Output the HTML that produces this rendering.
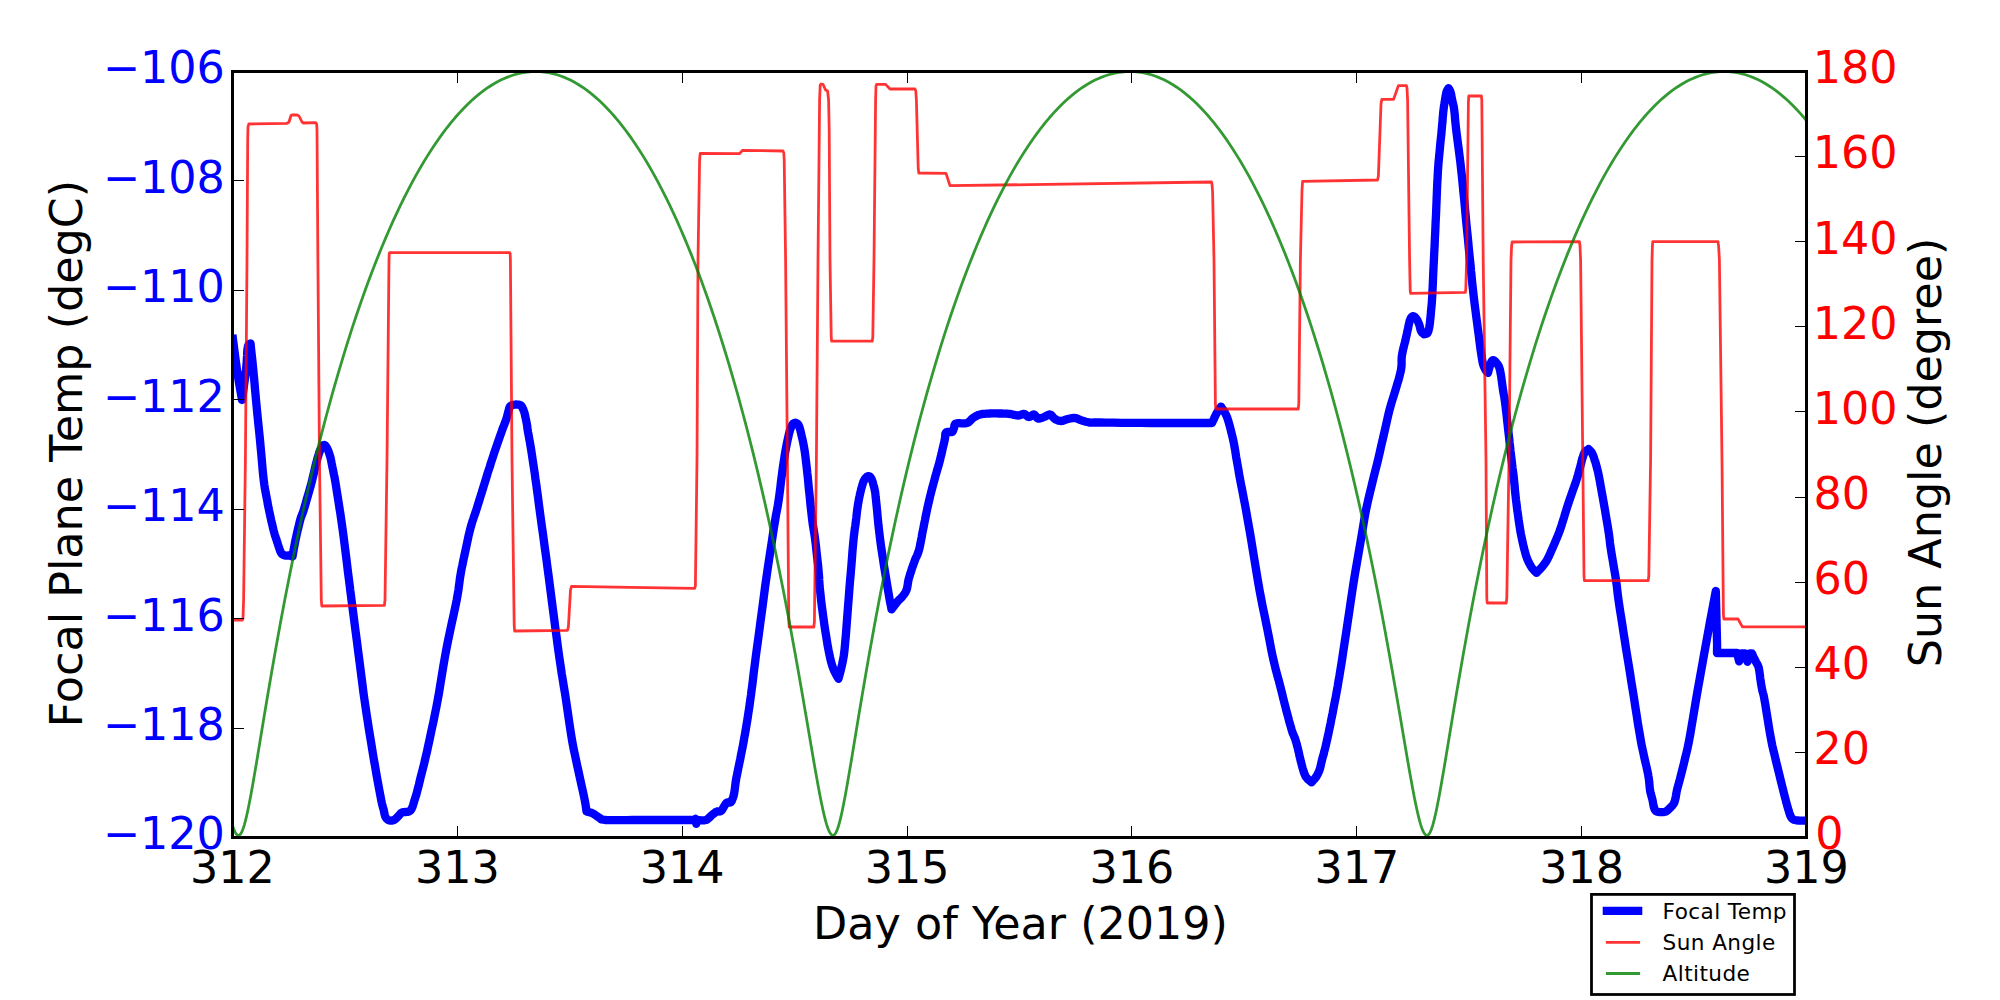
<!DOCTYPE html>
<html lang="en"><head><meta charset="utf-8"><title>Focal Plane Temp</title>
<style>
html,body{margin:0;padding:0;background:#fff;}
body{width:2000px;height:1000px;overflow:hidden;}
svg{display:block;}
text{font-family:"DejaVu Sans","Liberation Sans",sans-serif;}
</style></head><body>
<svg width="2000" height="1000" viewBox="0 0 2000 1000">
<rect width="2000" height="1000" fill="#fff"/>
<clipPath id="ax"><rect x="232.5" y="71.5" width="1574.0" height="766.0"/></clipPath>
<g clip-path="url(#ax)" fill="none" stroke-linejoin="round" stroke-linecap="butt">
<path d="M232.4 334.8L232.9 338.7L233.6 344.1L234.4 350.5L235.3 357.3L236.2 364.0L237.0 370.0L237.9 375.6L238.8 381.5L239.8 387.2L240.7 392.4L241.5 396.8L242.0 400.0L242.5 396.6L243.1 391.9L243.9 386.2L244.7 380.4L245.4 374.8L246.0 370.0L246.4 365.9L246.7 362.0L246.9 358.4L247.1 355.2L247.2 352.3L247.4 350.0L247.6 348.3L247.8 347.1L247.9 346.3L248.1 345.9L248.3 345.5L248.5 345.0L248.8 344.5L249.2 344.2L249.6 343.9L249.9 343.7L250.3 343.5L250.5 343.4L250.8 346.3L251.2 350.2L251.7 354.8L252.3 359.9L252.8 365.1L253.3 370.0L253.7 374.7L254.2 379.4L254.6 384.2L255.0 389.1L255.5 394.4L256.0 400.0L256.6 406.1L257.2 412.6L257.9 419.4L258.6 426.3L259.3 433.2L260.0 440.0L260.6 446.9L261.3 454.1L261.9 461.2L262.5 468.1L263.1 474.5L263.7 480.0L264.3 484.6L264.9 488.5L265.5 491.9L266.1 494.8L266.6 497.5L267.1 500.0L267.5 502.1L267.7 503.7L268.0 505.0L268.2 506.3L268.6 507.9L269.0 510.0L269.6 512.8L270.3 516.2L271.1 519.9L272.0 523.6L272.8 527.0L273.5 530.0L274.2 532.5L274.8 534.8L275.5 536.8L276.1 538.7L276.7 540.4L277.2 542.0L277.7 543.5L278.1 544.8L278.5 546.0L278.8 547.0L279.2 548.0L279.5 549.0L279.8 549.9L280.1 550.8L280.4 551.6L280.7 552.3L281.1 552.9L281.5 553.5L282.0 554.0L282.5 554.4L283.1 554.8L283.7 555.1L284.4 555.3L285.0 555.5L285.6 555.6L286.3 555.6L287.0 555.6L287.7 555.5L288.4 555.5L289.0 555.5L289.7 555.6L290.3 555.8L291.0 556.0L291.6 556.2L292.1 556.4L292.5 556.5L292.8 554.7L293.2 552.4L293.7 549.5L294.3 546.4L294.9 543.1L295.5 540.0L296.2 536.8L297.0 533.2L297.8 529.6L298.7 526.1L299.5 522.8L300.2 520.0L300.8 517.9L301.4 516.3L301.9 515.0L302.4 513.7L303.0 512.1L303.7 510.0L304.6 507.1L305.6 503.7L306.6 500.0L307.7 496.3L308.7 492.9L309.5 490.0L310.1 487.8L310.6 486.2L310.9 484.9L311.3 483.6L311.7 482.0L312.2 480.0L312.8 477.4L313.6 474.3L314.3 471.0L315.1 467.7L315.8 464.6L316.5 462.0L317.1 459.8L317.6 457.9L318.1 456.2L318.6 454.7L319.0 453.3L319.5 452.0L319.9 450.8L320.4 449.9L320.8 449.0L321.2 448.3L321.6 447.6L322.0 447.0L322.4 446.4L322.8 445.9L323.2 445.4L323.6 445.1L324.1 445.0L324.5 445.0L325.0 445.3L325.5 445.8L326.0 446.4L326.5 447.2L327.0 448.1L327.5 449.0L328.0 450.0L328.4 451.0L328.8 452.2L329.2 453.4L329.6 454.7L330.0 456.0L330.4 457.3L330.7 458.6L331.0 460.0L331.3 461.5L331.6 463.1L332.0 465.0L332.4 467.1L332.9 469.4L333.4 471.8L333.9 474.4L334.5 477.1L335.0 480.0L335.5 482.9L336.0 485.9L336.5 489.1L337.0 492.4L337.6 496.0L338.2 500.0L338.9 504.2L339.5 508.5L340.3 513.1L341.0 518.1L341.8 523.7L342.7 530.0L343.7 537.5L344.8 546.3L346.0 555.6L347.1 564.8L348.1 573.2L349.0 580.0L349.6 584.7L350.0 587.8L350.2 590.0L350.5 592.2L350.9 595.3L351.5 600.0L352.4 606.6L353.4 614.4L354.5 623.1L355.7 632.2L356.9 641.3L358.0 650.0L359.1 658.4L360.2 667.0L361.3 675.6L362.4 684.1L363.4 692.2L364.5 700.0L365.6 707.4L366.6 714.4L367.7 721.2L368.7 727.8L369.7 734.0L370.7 740.0L371.6 745.6L372.4 750.7L373.2 755.6L374.0 760.4L374.9 765.1L375.7 770.0L376.6 775.2L377.6 780.7L378.6 786.2L379.6 791.5L380.5 796.2L381.2 800.0L381.8 802.9L382.3 804.9L382.7 806.4L383.0 807.6L383.4 808.7L383.7 810.0L384.0 811.4L384.3 812.7L384.5 813.9L384.8 815.1L385.1 816.1L385.5 817.0L386.0 817.8L386.5 818.5L387.1 819.1L387.7 819.6L388.3 820.0L389.0 820.3L389.8 820.5L390.6 820.6L391.4 820.6L392.3 820.5L393.2 820.3L394.0 820.0L394.8 819.5L395.6 818.9L396.3 818.2L397.1 817.4L397.8 816.7L398.5 816.0L399.1 815.4L399.6 814.7L400.1 814.1L400.6 813.5L401.2 812.9L402.0 812.5L403.0 812.2L404.2 812.1L405.5 812.0L406.8 811.9L408.0 811.8L409.0 811.5L409.7 811.1L410.3 810.6L410.8 810.1L411.2 809.4L411.6 808.8L412.0 808.0L412.4 807.2L412.7 806.3L413.0 805.4L413.3 804.4L413.6 803.3L414.0 802.0L414.4 800.6L414.9 799.0L415.4 797.4L416.0 795.6L416.5 793.8L417.0 792.0L417.5 790.2L417.9 788.4L418.4 786.6L418.9 784.7L419.4 782.5L420.0 780.0L420.7 777.1L421.5 773.9L422.4 770.5L423.3 767.0L424.2 763.4L425.0 760.0L425.7 756.9L426.4 754.1L427.1 751.2L427.7 748.1L428.5 744.5L429.5 740.0L430.6 734.6L431.9 728.5L433.4 721.9L434.8 714.8L436.3 707.5L437.7 700.0L439.1 692.2L440.4 684.1L441.8 675.6L443.2 667.0L444.7 658.4L446.2 650.0L447.9 641.4L449.8 632.4L451.7 623.4L453.6 614.8L455.3 606.9L456.7 600.0L457.7 594.3L458.5 589.6L459.0 585.6L459.5 582.0L459.9 578.6L460.5 575.0L461.1 571.5L461.7 568.2L462.4 565.1L463.0 562.0L463.7 558.7L464.5 555.0L465.4 550.8L466.4 546.2L467.4 541.4L468.4 536.6L469.5 532.1L470.5 528.0L471.5 524.5L472.4 521.4L473.4 518.6L474.3 515.8L475.3 513.0L476.3 510.0L477.3 506.8L478.3 503.5L479.4 500.1L480.4 496.7L481.5 493.4L482.5 490.0L483.5 486.7L484.6 483.3L485.6 480.0L486.6 476.7L487.6 473.3L488.7 470.0L489.8 466.7L490.8 463.3L491.9 460.0L493.0 456.7L494.1 453.3L495.2 450.0L496.4 446.6L497.6 443.0L498.9 439.4L500.1 435.9L501.2 432.8L502.2 430.0L503.0 427.7L503.8 425.9L504.4 424.3L504.9 422.9L505.5 421.5L506.0 420.0L506.5 418.4L507.0 416.8L507.4 415.2L507.8 413.6L508.2 412.2L508.5 411.0L508.8 410.0L509.0 409.1L509.2 408.3L509.4 407.6L509.7 407.0L510.0 406.5L510.4 406.1L510.9 405.7L511.3 405.5L511.9 405.3L512.4 405.2L513.0 405.0L513.6 404.8L514.3 404.7L514.9 404.6L515.6 404.5L516.3 404.5L517.0 404.5L517.7 404.6L518.4 404.6L519.1 404.8L519.8 404.9L520.4 405.2L521.0 405.5L521.5 405.9L521.8 406.5L522.2 407.1L522.4 407.7L522.7 408.4L523.0 409.0L523.3 409.5L523.5 410.0L523.7 410.5L523.9 411.1L524.2 411.9L524.5 413.0L524.9 414.6L525.3 416.7L525.8 418.9L526.3 421.2L526.7 423.3L527.0 425.0L527.2 426.1L527.3 426.6L527.3 427.0L527.3 427.5L527.4 428.4L527.7 430.0L528.1 432.5L528.7 435.6L529.3 439.1L530.0 442.8L530.6 446.5L531.2 450.0L531.7 453.3L532.2 456.7L532.7 460.0L533.2 463.3L533.7 466.7L534.2 470.0L534.7 473.2L535.1 476.3L535.5 479.4L536.0 482.6L536.5 486.1L537.0 490.0L537.6 494.3L538.2 498.9L538.8 503.8L539.5 508.9L540.2 514.3L541.0 520.0L541.8 526.0L542.7 532.2L543.6 538.8L544.5 545.6L545.5 552.6L546.5 560.0L547.5 567.8L548.6 575.9L549.7 584.4L550.8 593.0L551.9 601.6L553.0 610.0L554.1 618.4L555.2 627.0L556.4 635.6L557.5 644.1L558.6 652.2L559.7 660.0L560.8 667.2L561.8 674.1L562.9 680.6L563.9 687.0L565.0 693.4L566.0 700.0L567.0 706.8L568.0 713.7L569.0 720.6L570.0 727.4L571.0 733.9L572.0 740.0L573.0 745.6L574.0 750.7L575.1 755.6L576.1 760.4L577.1 765.1L578.2 770.0L579.3 775.2L580.5 780.7L581.7 786.2L582.9 791.4L583.9 796.1L584.7 800.0L585.3 803.1L585.7 805.6L586.0 807.6L586.2 809.2L586.4 810.5L586.5 811.5L587.2 811.7L588.2 811.9L589.4 812.2L590.6 812.6L591.9 813.0L593.0 813.5L594.0 814.1L595.0 814.7L596.0 815.5L596.9 816.2L597.9 816.9L599.0 817.5L599.8 818.0L600.3 818.5L600.8 819.0L601.6 819.4L603.3 819.7L606.0 820.0L609.9 820.1L614.6 820.2L620.0 820.2L626.1 820.1L632.8 820.0L640.0 820.0L648.6 820.0L658.7 820.0L669.5 820.0L679.8 820.0L688.5 820.0L694.7 820.0L695.5 818.7L696.3 823.8L697.2 820.0L698.2 820.1L699.6 820.2L701.2 820.3L702.9 820.4L704.6 820.3L706.0 820.0L707.2 819.4L708.2 818.6L709.2 817.7L710.2 816.7L711.1 815.8L712.0 815.0L712.9 814.3L713.8 813.6L714.6 813.0L715.4 812.4L716.2 811.9L717.0 811.5L717.7 811.3L718.4 811.3L719.1 811.4L719.7 811.5L720.3 811.4L721.0 811.0L721.7 810.3L722.4 809.3L723.1 808.1L723.8 806.9L724.4 805.9L725.0 805.0L725.4 804.4L725.7 803.8L726.0 803.4L726.3 803.1L726.6 802.8L727.0 802.5L727.6 802.4L728.2 802.5L728.9 802.6L729.7 802.6L730.4 802.5L731.0 802.0L731.6 801.2L732.1 800.1L732.6 798.8L733.1 797.4L733.6 795.8L734.0 794.0L734.4 792.0L734.7 789.8L735.0 787.4L735.3 785.0L735.6 782.5L736.0 780.0L736.4 777.6L736.9 775.3L737.4 772.9L737.9 770.4L738.4 767.8L739.0 765.0L739.6 762.0L740.3 758.8L740.9 755.5L741.6 752.1L742.3 748.6L743.0 745.0L743.7 741.4L744.3 737.7L745.0 733.9L745.7 730.1L746.3 726.1L747.0 722.0L747.7 717.8L748.3 713.5L749.0 709.1L749.7 704.5L750.3 699.8L751.0 695.0L751.6 690.1L752.3 685.1L752.9 680.0L753.5 674.7L754.2 669.0L755.0 663.0L755.8 656.6L756.7 649.7L757.7 642.6L758.7 635.3L759.7 627.7L760.7 620.0L761.8 612.1L762.9 603.9L764.0 595.4L765.1 586.9L766.3 578.4L767.5 570.0L768.8 561.3L770.2 552.2L771.6 543.1L772.9 534.4L774.1 526.6L775.2 520.0L776.0 515.0L776.7 511.5L777.2 508.8L777.7 506.3L778.1 503.6L778.7 500.0L779.3 495.5L780.0 490.4L780.6 485.1L781.2 479.8L781.9 474.7L782.5 470.0L783.1 465.8L783.7 461.9L784.3 458.1L784.8 454.6L785.4 451.2L786.0 448.0L786.6 444.9L787.2 441.9L787.8 439.1L788.4 436.5L788.9 434.1L789.5 432.0L790.0 430.2L790.5 428.7L791.0 427.4L791.5 426.3L792.0 425.3L792.5 424.5L793.0 423.8L793.6 423.4L794.2 423.1L794.7 423.0L795.2 422.8L795.5 422.7L795.8 422.9L796.3 423.1L796.8 423.3L797.4 423.7L798.0 424.3L798.5 425.0L798.9 425.9L799.3 426.9L799.7 428.1L800.1 429.5L800.5 431.1L801.0 433.0L801.5 435.3L802.1 437.9L802.8 440.8L803.4 443.8L804.0 446.9L804.5 450.0L805.0 453.2L805.4 456.4L805.8 459.8L806.2 463.2L806.6 466.6L807.0 470.0L807.3 473.2L807.7 476.3L808.0 479.4L808.3 482.6L808.6 486.1L809.0 490.0L809.5 494.5L810.0 499.6L810.5 505.0L811.1 510.4L811.7 515.5L812.2 520.0L812.7 523.8L813.2 527.0L813.7 530.0L814.2 533.0L814.7 536.2L815.2 540.0L815.8 544.5L816.3 549.6L816.9 555.0L817.5 560.4L818.1 565.5L818.5 570.0L818.8 573.8L819.1 577.0L819.2 580.0L819.4 583.0L819.6 586.2L820.0 590.0L820.5 594.4L821.0 599.3L821.6 604.4L822.3 609.6L823.0 614.9L823.7 620.0L824.4 625.1L825.2 630.4L826.1 635.8L826.9 640.9L827.7 645.7L828.5 650.0L829.3 653.8L830.0 657.2L830.7 660.2L831.4 663.0L832.2 665.6L833.0 668.0L833.9 670.3L835.0 672.5L836.0 674.5L837.0 676.3L837.9 677.7L838.5 678.8L838.9 677.3L839.4 675.3L840.1 672.8L840.8 670.2L841.4 667.5L842.0 665.0L842.5 662.7L842.9 660.6L843.3 658.5L843.7 656.2L844.1 653.4L844.5 650.0L844.9 645.9L845.3 641.1L845.8 635.9L846.2 630.6L846.6 625.2L847.0 620.0L847.4 614.9L847.8 609.6L848.2 604.4L848.6 599.3L849.0 594.4L849.3 590.0L849.6 586.2L849.9 583.0L850.1 580.0L850.4 577.0L850.7 573.8L851.0 570.0L851.4 565.5L851.8 560.4L852.2 555.0L852.6 549.6L853.1 544.5L853.5 540.0L853.9 536.0L854.4 532.2L854.8 528.8L855.3 525.6L855.7 522.6L856.0 520.0L856.3 517.8L856.5 515.9L856.7 514.4L856.8 513.0L857.0 511.6L857.2 510.0L857.4 508.3L857.7 506.7L857.9 505.0L858.2 503.3L858.5 501.7L858.8 500.0L859.1 498.3L859.5 496.6L859.8 495.0L860.2 493.3L860.6 491.6L861.0 490.0L861.4 488.3L861.9 486.6L862.4 484.9L862.9 483.3L863.4 481.8L864.0 480.5L864.6 479.4L865.3 478.4L866.0 477.6L866.7 476.9L867.4 476.4L868.0 476.2L868.6 476.2L869.2 476.3L869.8 476.6L870.4 477.2L870.9 478.0L871.5 479.0L872.1 480.4L872.7 482.1L873.2 484.1L873.8 486.1L874.3 488.1L874.7 490.0L875.0 491.4L875.2 492.3L875.3 493.2L875.4 494.5L875.6 496.6L876.0 500.0L876.5 504.8L877.1 510.7L877.7 517.5L878.4 524.8L879.3 532.4L880.2 540.0L881.3 548.1L882.7 557.1L884.1 566.3L885.6 575.2L886.9 583.3L888.0 590.0L888.9 595.2L889.6 599.4L890.2 602.8L890.8 605.4L891.2 607.6L891.5 609.3L892.2 608.3L893.3 607.0L894.5 605.4L895.8 603.8L897.0 602.2L898.0 601.0L898.8 600.1L899.5 599.5L900.1 598.9L900.7 598.4L901.3 597.8L902.0 597.0L902.8 596.0L903.6 595.0L904.4 593.9L905.2 592.7L905.9 591.4L906.5 590.0L907.0 588.5L907.3 586.9L907.6 585.2L907.9 583.4L908.1 581.7L908.5 580.0L908.9 578.3L909.4 576.7L909.9 575.0L910.4 573.3L911.0 571.7L911.5 570.0L912.0 568.3L912.6 566.7L913.2 565.0L913.8 563.3L914.4 561.7L915.0 560.0L915.6 558.4L916.3 557.0L917.0 555.6L917.6 554.1L918.3 552.2L919.0 550.0L919.7 547.2L920.3 544.1L921.0 540.6L921.7 537.0L922.3 533.4L923.0 530.0L923.7 526.7L924.3 523.3L925.0 520.0L925.6 516.7L926.3 513.3L927.0 510.0L927.7 506.7L928.5 503.3L929.3 500.0L930.0 496.7L930.9 493.3L931.7 490.0L932.6 486.6L933.6 483.0L934.6 479.4L935.5 475.9L936.4 472.8L937.2 470.0L937.8 467.9L938.3 466.3L938.7 465.0L939.0 463.7L939.5 462.1L940.0 460.0L940.7 457.1L941.6 453.6L942.4 449.8L943.3 446.1L944.1 442.7L944.7 440.0L945.1 437.9L945.2 436.3L945.3 435.0L945.3 434.0L945.6 433.2L946.0 432.5L946.8 432.1L947.8 431.9L949.0 432.0L950.1 432.2L951.2 432.2L952.0 432.0L952.6 431.5L953.0 430.9L953.2 430.2L953.5 429.5L953.7 428.7L954.0 428.0L954.2 427.2L954.3 426.4L954.4 425.5L954.7 424.7L955.1 424.0L956.0 423.5L957.4 423.2L959.2 423.2L961.2 423.3L963.4 423.4L965.4 423.3L967.0 423.0L968.3 422.4L969.3 421.6L970.2 420.7L971.1 419.7L972.0 418.8L973.0 418.0L974.1 417.3L975.1 416.6L976.2 416.0L977.4 415.4L978.6 414.9L980.0 414.5L981.5 414.2L983.1 413.9L984.8 413.8L986.6 413.7L988.3 413.6L990.0 413.5L991.7 413.4L993.3 413.4L995.0 413.4L996.7 413.4L998.3 413.5L1000.0 413.5L1001.7 413.5L1003.4 413.6L1005.1 413.7L1006.8 413.7L1008.4 413.9L1010.0 414.0L1011.5 414.2L1012.9 414.5L1014.2 414.9L1015.6 415.2L1016.8 415.4L1018.0 415.5L1019.1 415.4L1020.2 415.1L1021.2 414.7L1022.1 414.3L1023.1 414.0L1024.0 414.0L1024.9 414.3L1025.7 414.9L1026.6 415.6L1027.4 416.2L1028.2 416.8L1029.0 417.0L1029.8 416.8L1030.7 416.3L1031.6 415.7L1032.4 415.1L1033.2 414.6L1034.0 414.5L1034.7 414.9L1035.3 415.6L1035.9 416.4L1036.6 417.3L1037.2 418.1L1038.0 418.5L1038.9 418.6L1039.9 418.4L1040.9 418.2L1041.9 417.8L1043.0 417.4L1044.0 417.0L1045.0 416.6L1046.0 416.0L1047.1 415.4L1048.1 414.9L1049.1 414.5L1050.0 414.5L1050.9 414.9L1051.7 415.6L1052.5 416.5L1053.3 417.4L1054.1 418.3L1055.0 419.0L1055.9 419.5L1056.9 420.0L1057.9 420.4L1058.9 420.7L1059.9 420.9L1061.0 421.0L1062.1 420.9L1063.3 420.6L1064.4 420.2L1065.6 419.7L1066.8 419.3L1068.0 419.0L1069.2 418.7L1070.3 418.5L1071.5 418.2L1072.7 418.0L1073.8 418.0L1075.0 418.0L1076.2 418.2L1077.3 418.6L1078.4 419.1L1079.6 419.6L1080.8 420.1L1082.0 420.5L1083.3 420.9L1084.5 421.3L1085.8 421.7L1087.1 422.0L1088.5 422.3L1090.0 422.5L1091.1 422.6L1091.7 422.6L1092.4 422.6L1093.6 422.5L1096.0 422.5L1100.0 422.5L1105.9 422.6L1113.3 422.6L1121.8 422.8L1131.0 422.9L1140.5 422.9L1150.0 423.0L1160.4 423.0L1172.1 423.0L1184.1 423.0L1195.5 423.0L1205.1 423.0L1212.0 423.0L1212.5 421.9L1213.2 420.4L1214.0 418.7L1214.8 416.8L1215.7 415.0L1216.5 413.5L1217.3 412.1L1218.2 410.8L1219.0 409.5L1219.8 408.4L1220.5 407.4L1221.0 406.7L1221.4 407.2L1221.9 408.0L1222.5 408.8L1223.2 409.8L1223.9 410.9L1224.5 412.0L1225.1 413.0L1225.6 414.0L1226.1 415.1L1226.7 416.3L1227.3 417.9L1228.0 420.0L1228.8 422.6L1229.7 425.8L1230.6 429.2L1231.5 432.9L1232.4 436.5L1233.2 440.0L1233.9 443.3L1234.5 446.7L1235.1 450.0L1235.6 453.3L1236.1 456.7L1236.7 460.0L1237.3 463.4L1237.9 466.8L1238.5 470.2L1239.0 473.6L1239.6 476.8L1240.2 480.0L1240.7 482.8L1241.2 485.3L1241.7 487.7L1242.2 490.3L1242.8 493.3L1243.5 497.0L1244.3 501.3L1245.2 505.8L1246.1 510.8L1247.1 516.4L1248.2 522.8L1249.5 530.0L1251.0 538.7L1252.6 548.7L1254.4 559.6L1256.2 570.5L1257.9 580.8L1259.5 590.0L1261.0 597.9L1262.4 605.2L1263.8 611.9L1265.1 618.1L1266.3 624.1L1267.5 630.0L1268.6 635.6L1269.6 640.7L1270.5 645.6L1271.4 650.4L1272.4 655.1L1273.5 660.0L1274.7 665.1L1276.0 670.4L1277.4 675.6L1278.8 680.7L1280.1 685.6L1281.2 690.0L1282.2 693.9L1283.0 697.4L1283.8 700.6L1284.6 703.7L1285.4 706.8L1286.2 710.0L1287.1 713.4L1288.1 717.0L1289.0 720.6L1290.0 724.1L1290.9 727.2L1291.7 730.0L1292.4 732.2L1293.1 734.1L1293.8 735.6L1294.4 737.0L1295.0 738.4L1295.5 740.0L1296.0 741.7L1296.5 743.3L1296.9 745.0L1297.4 746.7L1297.8 748.3L1298.2 750.0L1298.6 751.7L1299.0 753.3L1299.3 755.0L1299.7 756.7L1300.1 758.3L1300.5 760.0L1300.9 761.7L1301.4 763.4L1301.8 765.2L1302.3 766.9L1302.7 768.5L1303.2 770.0L1303.6 771.4L1304.0 772.6L1304.4 773.8L1304.9 774.9L1305.4 776.0L1306.0 777.0L1306.8 778.0L1307.8 779.1L1308.9 780.1L1310.0 781.0L1310.9 781.7L1311.5 782.3L1312.0 781.7L1312.7 781.0L1313.5 780.1L1314.4 779.1L1315.3 778.0L1316.0 777.0L1316.7 776.0L1317.3 774.9L1317.9 773.8L1318.4 772.6L1319.0 771.4L1319.5 770.0L1320.0 768.5L1320.4 766.9L1320.8 765.2L1321.2 763.4L1321.6 761.7L1322.0 760.0L1322.4 758.4L1322.8 757.0L1323.2 755.6L1323.7 754.1L1324.1 752.2L1324.7 750.0L1325.4 747.2L1326.1 744.1L1326.9 740.6L1327.7 737.0L1328.5 733.4L1329.2 730.0L1329.9 726.7L1330.6 723.3L1331.2 720.0L1331.9 716.7L1332.6 713.3L1333.2 710.0L1333.8 706.8L1334.4 703.7L1335.0 700.6L1335.7 697.4L1336.3 693.9L1337.0 690.0L1337.8 685.7L1338.5 681.1L1339.4 676.2L1340.2 671.1L1341.1 665.7L1342.0 660.0L1342.9 653.9L1343.9 647.4L1344.9 640.6L1346.0 633.7L1347.0 626.8L1348.0 620.0L1349.0 613.3L1350.0 606.5L1351.0 599.7L1352.0 593.0L1353.0 586.4L1354.0 580.0L1355.0 573.9L1356.0 568.0L1357.0 562.2L1358.0 556.5L1359.0 550.8L1360.0 545.0L1361.0 539.1L1362.0 533.1L1363.0 527.1L1364.0 521.1L1365.0 515.4L1366.0 510.0L1367.1 504.9L1368.2 499.9L1369.3 495.2L1370.4 490.6L1371.5 486.2L1372.5 482.0L1373.5 478.0L1374.4 474.3L1375.3 470.8L1376.2 467.3L1377.1 463.7L1378.0 460.0L1378.9 456.1L1379.8 452.2L1380.7 448.2L1381.6 444.2L1382.6 440.1L1383.5 436.0L1384.5 431.7L1385.5 427.3L1386.5 422.8L1387.5 418.3L1388.5 414.0L1389.5 410.0L1390.5 406.3L1391.5 402.9L1392.5 399.6L1393.5 396.4L1394.5 393.3L1395.5 390.0L1396.5 386.6L1397.5 383.1L1398.6 379.7L1399.5 376.3L1400.3 373.0L1401.0 370.0L1401.4 367.2L1401.6 364.6L1401.6 362.2L1401.6 359.8L1401.7 357.4L1402.0 355.0L1402.5 352.4L1403.0 349.8L1403.7 347.2L1404.3 344.6L1405.0 342.2L1405.5 340.0L1405.9 338.0L1406.3 336.3L1406.7 334.7L1407.0 333.1L1407.3 331.6L1407.7 330.0L1408.1 328.3L1408.4 326.4L1408.8 324.6L1409.2 322.9L1409.6 321.3L1410.0 320.0L1410.5 318.9L1410.9 318.0L1411.4 317.3L1411.9 316.7L1412.5 316.4L1413.0 316.2L1413.6 316.3L1414.2 316.6L1414.8 317.0L1415.4 317.7L1416.0 318.3L1416.5 319.0L1417.0 319.7L1417.4 320.4L1417.8 321.2L1418.2 322.1L1418.6 323.0L1419.0 324.0L1419.4 325.1L1419.7 326.3L1420.0 327.6L1420.3 328.9L1420.6 330.0L1421.0 331.0L1421.5 331.8L1422.0 332.5L1422.6 333.1L1423.2 333.6L1423.7 334.0L1424.0 334.3L1424.4 334.2L1425.0 334.1L1425.6 334.0L1426.3 333.8L1427.0 333.5L1427.5 333.0L1427.9 332.3L1428.3 331.4L1428.6 330.4L1428.8 329.2L1429.1 328.1L1429.3 327.0L1429.5 326.0L1429.6 325.2L1429.7 324.4L1429.9 323.3L1430.0 321.9L1430.2 320.0L1430.5 317.3L1430.8 313.9L1431.1 310.2L1431.5 306.4L1431.8 302.9L1432.0 300.0L1432.1 298.0L1432.2 296.7L1432.3 295.6L1432.3 294.4L1432.4 292.7L1432.5 290.0L1432.7 286.3L1432.9 282.0L1433.1 277.2L1433.3 271.9L1433.6 266.1L1433.9 260.0L1434.2 253.4L1434.6 246.1L1434.9 238.4L1435.3 230.6L1435.6 222.7L1436.0 215.0L1436.3 207.4L1436.6 199.8L1436.9 192.2L1437.2 184.6L1437.6 177.2L1438.0 170.0L1438.5 162.8L1439.2 155.6L1439.9 148.4L1440.5 141.7L1441.2 135.5L1441.7 130.0L1442.1 125.4L1442.5 121.5L1442.7 118.1L1443.0 115.2L1443.2 112.5L1443.5 110.0L1443.8 107.7L1444.0 105.9L1444.3 104.2L1444.5 102.8L1444.8 101.4L1445.0 100.0L1445.2 98.5L1445.5 97.0L1445.7 95.6L1446.0 94.3L1446.2 93.1L1446.5 92.0L1446.8 91.1L1447.2 90.3L1447.6 89.6L1448.0 89.0L1448.3 88.6L1448.5 88.2L1448.7 88.6L1449.0 89.0L1449.4 89.6L1449.8 90.3L1450.2 91.1L1450.5 92.0L1450.8 93.1L1451.1 94.3L1451.3 95.6L1451.6 97.0L1451.9 98.5L1452.2 100.0L1452.5 101.4L1452.8 102.8L1453.2 104.2L1453.5 105.9L1453.9 107.7L1454.2 110.0L1454.5 112.5L1454.8 115.2L1455.0 118.1L1455.3 121.5L1455.7 125.4L1456.2 130.0L1456.9 135.5L1457.7 141.7L1458.6 148.4L1459.5 155.6L1460.4 162.8L1461.2 170.0L1462.0 177.2L1462.7 184.6L1463.4 192.2L1464.2 199.8L1464.9 207.4L1465.6 215.0L1466.3 222.7L1467.1 230.6L1467.9 238.4L1468.6 246.1L1469.3 253.4L1470.0 260.0L1470.6 265.8L1471.0 270.7L1471.5 275.3L1471.9 279.8L1472.4 284.6L1473.0 290.0L1473.7 296.2L1474.5 303.0L1475.4 310.0L1476.3 317.0L1477.2 323.8L1478.0 330.0L1478.8 335.8L1479.5 341.5L1480.2 346.9L1480.9 351.9L1481.6 356.3L1482.2 360.0L1482.7 362.8L1483.2 364.7L1483.7 366.1L1484.1 367.2L1484.5 368.0L1485.0 369.0L1485.5 370.0L1486.1 370.8L1486.7 371.5L1487.2 372.0L1487.7 372.4L1488.0 372.8L1488.3 371.8L1488.6 370.3L1489.1 368.6L1489.6 366.9L1490.1 365.3L1490.5 364.0L1490.9 363.0L1491.3 362.1L1491.7 361.4L1492.1 360.8L1492.5 360.4L1493.0 360.2L1493.5 360.2L1494.1 360.5L1494.7 360.9L1495.3 361.5L1495.9 362.2L1496.5 363.0L1497.1 363.8L1497.7 364.5L1498.3 365.4L1498.9 366.5L1499.4 368.0L1500.0 370.0L1500.5 372.7L1501.1 376.0L1501.6 379.7L1502.1 383.4L1502.6 387.0L1503.0 390.0L1503.4 392.3L1503.7 394.0L1504.0 395.5L1504.3 397.1L1504.6 399.2L1505.0 402.0L1505.5 405.8L1506.0 410.3L1506.6 415.2L1507.1 420.3L1507.7 425.3L1508.2 430.0L1508.7 434.3L1509.2 438.6L1509.6 442.7L1510.1 446.8L1510.5 450.9L1511.0 455.0L1511.5 459.2L1512.0 463.5L1512.5 467.8L1513.1 472.0L1513.6 476.1L1514.0 480.0L1514.4 483.5L1514.7 486.7L1514.9 489.7L1515.2 492.8L1515.6 496.1L1516.0 500.0L1516.6 504.5L1517.2 509.6L1518.0 515.0L1518.7 520.4L1519.5 525.5L1520.2 530.0L1520.9 534.0L1521.7 537.8L1522.4 541.2L1523.1 544.4L1523.8 547.4L1524.5 550.0L1525.1 552.3L1525.6 554.1L1526.1 555.8L1526.6 557.2L1527.1 558.6L1527.7 560.0L1528.4 561.5L1529.0 562.9L1529.8 564.3L1530.5 565.6L1531.3 566.9L1532.0 568.0L1532.8 569.0L1533.7 570.0L1534.5 570.9L1535.3 571.7L1536.0 572.3L1536.5 572.8L1537.1 572.2L1537.9 571.3L1538.9 570.3L1540.0 569.2L1541.0 568.1L1542.0 567.0L1542.9 565.9L1543.7 564.9L1544.5 563.8L1545.4 562.6L1546.2 561.4L1547.0 560.0L1547.8 558.5L1548.6 556.9L1549.4 555.2L1550.2 553.4L1550.9 551.7L1551.7 550.0L1552.4 548.3L1553.2 546.7L1553.9 545.0L1554.6 543.3L1555.3 541.7L1556.0 540.0L1556.7 538.3L1557.4 536.7L1558.1 535.0L1558.7 533.3L1559.4 531.7L1560.0 530.0L1560.5 528.4L1561.0 527.0L1561.5 525.6L1561.9 524.1L1562.5 522.2L1563.2 520.0L1564.1 517.2L1565.0 514.1L1566.1 510.6L1567.2 507.0L1568.4 503.4L1569.5 500.0L1570.7 496.6L1571.9 493.1L1573.1 489.7L1574.3 486.3L1575.5 483.0L1576.5 480.0L1577.4 477.1L1578.2 474.3L1578.9 471.7L1579.6 469.2L1580.2 467.0L1580.7 465.0L1581.1 463.4L1581.5 462.0L1581.7 460.9L1581.9 460.0L1582.2 459.0L1582.5 458.0L1582.9 456.9L1583.2 455.8L1583.6 454.7L1584.1 453.7L1584.5 452.8L1585.0 452.0L1585.6 451.3L1586.2 450.7L1586.9 450.2L1587.6 449.8L1588.1 449.5L1588.5 449.2L1588.9 449.6L1589.4 450.0L1590.1 450.6L1590.7 451.3L1591.4 452.1L1592.0 453.0L1592.5 454.1L1593.1 455.3L1593.6 456.7L1594.1 458.1L1594.5 459.6L1595.0 461.0L1595.5 462.4L1595.9 463.9L1596.3 465.4L1596.7 466.9L1597.1 468.4L1597.5 470.0L1597.9 471.5L1598.2 472.9L1598.5 474.3L1598.8 475.9L1599.2 477.7L1599.6 480.0L1600.1 482.6L1600.6 485.6L1601.2 488.8L1601.8 492.2L1602.5 496.0L1603.2 500.0L1604.0 504.5L1604.9 509.6L1605.8 515.0L1606.7 520.4L1607.6 525.5L1608.3 530.0L1608.9 533.8L1609.3 537.0L1609.7 540.0L1610.0 543.0L1610.4 546.2L1611.0 550.0L1611.7 554.5L1612.6 559.6L1613.5 565.0L1614.4 570.4L1615.3 575.5L1616.0 580.0L1616.5 583.7L1616.9 586.7L1617.2 589.4L1617.5 592.2L1617.9 595.6L1618.5 600.0L1619.3 605.4L1620.2 611.5L1621.3 618.1L1622.4 625.2L1623.5 632.5L1624.7 640.0L1625.9 647.8L1627.2 655.9L1628.6 664.4L1630.0 673.0L1631.3 681.6L1632.7 690.0L1634.1 698.6L1635.4 707.4L1636.8 716.2L1638.1 724.8L1639.5 732.8L1640.7 740.0L1641.9 746.4L1643.2 752.2L1644.3 757.5L1645.4 762.2L1646.4 766.4L1647.2 770.0L1647.8 772.8L1648.2 774.8L1648.4 776.2L1648.6 777.4L1648.8 778.6L1649.0 780.0L1649.2 781.7L1649.3 783.3L1649.5 785.0L1649.6 786.7L1649.8 788.3L1650.0 790.0L1650.3 791.7L1650.7 793.4L1651.2 795.1L1651.6 796.7L1652.1 798.4L1652.5 800.0L1652.8 801.6L1653.1 803.3L1653.4 804.9L1653.7 806.5L1654.1 807.9L1654.5 809.0L1655.0 809.9L1655.4 810.5L1655.9 811.0L1656.5 811.3L1657.2 811.6L1658.0 811.8L1659.0 812.0L1660.1 812.1L1661.4 812.2L1662.7 812.2L1663.9 812.1L1665.0 811.8L1666.0 811.4L1666.8 810.9L1667.7 810.3L1668.4 809.6L1669.2 808.8L1670.0 808.0L1670.8 807.2L1671.6 806.4L1672.4 805.5L1673.2 804.5L1673.9 803.4L1674.5 802.0L1675.0 800.3L1675.5 798.4L1675.9 796.2L1676.2 794.1L1676.6 792.0L1677.0 790.0L1677.4 788.3L1677.8 786.9L1678.2 785.5L1678.6 784.0L1679.1 782.2L1679.7 780.0L1680.4 777.2L1681.2 774.1L1682.1 770.6L1683.0 767.0L1683.9 763.4L1684.7 760.0L1685.4 757.0L1686.1 754.4L1686.7 751.9L1687.4 748.9L1688.2 745.1L1689.2 740.0L1690.4 733.4L1691.7 725.6L1693.2 716.9L1694.7 707.8L1696.2 698.7L1697.7 690.0L1699.2 681.7L1700.7 673.3L1702.2 664.9L1703.7 656.6L1705.2 648.3L1706.7 640.0L1708.3 631.2L1710.0 621.8L1711.8 612.4L1713.4 603.7L1714.8 596.3L1715.8 591.0L1717.1 645.0L1717.0 653.0L1737.0 653.0L1739.2 661.4L1741.5 653.5L1745.0 653.5L1747.6 661.7L1750.0 653.5L1752.0 653.5L1752.2 653.9L1752.4 654.4L1752.6 654.9L1752.9 655.6L1753.2 656.3L1753.5 657.0L1753.9 657.7L1754.2 658.5L1754.7 659.3L1755.1 660.2L1755.6 661.1L1756.0 662.0L1756.5 662.9L1757.0 663.7L1757.4 664.6L1757.9 665.5L1758.4 666.6L1758.8 668.0L1759.1 669.7L1759.4 671.6L1759.7 673.8L1760.0 675.9L1760.2 678.0L1760.5 680.0L1760.8 681.8L1761.0 683.5L1761.3 685.1L1761.6 686.7L1761.9 688.4L1762.2 690.0L1762.5 691.3L1762.8 692.2L1763.0 693.1L1763.4 694.4L1763.9 696.6L1764.5 700.0L1765.4 705.0L1766.4 711.5L1767.6 718.8L1768.8 726.3L1770.0 733.6L1771.2 740.0L1772.3 745.6L1773.5 750.7L1774.7 755.6L1775.8 760.4L1777.0 765.1L1778.2 770.0L1779.5 775.2L1780.8 780.7L1782.2 786.2L1783.5 791.5L1784.7 796.2L1785.7 800.0L1786.4 802.9L1787.0 804.9L1787.4 806.4L1787.8 807.6L1788.1 808.7L1788.5 810.0L1788.9 811.4L1789.3 812.7L1789.7 813.9L1790.1 815.1L1790.5 816.1L1791.0 817.0L1791.5 817.8L1791.9 818.4L1792.4 818.9L1793.1 819.3L1793.9 819.7L1795.0 820.0L1796.6 820.3L1798.7 820.5L1801.0 820.6L1803.2 820.7L1805.2 820.7L1806.5 820.8" stroke="#0000ff" stroke-width="8.33"/>
<path d="M232.5 620.0L242.4 620.0L243.0 618.0L243.6 600.0L245.4 460.0L247.0 260.0L247.7 140.0L248.0 127.0L248.8 124.0L287.0 123.4L289.0 122.0L291.0 115.5L292.0 115.0L297.0 115.0L299.0 116.0L302.0 122.0L303.5 123.0L315.6 122.6L316.7 124.0L317.0 130.0L317.9 260.0L319.5 460.0L321.3 600.0L321.8 606.0L384.4 605.4L385.0 600.0L387.0 460.0L389.0 260.0L389.2 254.0L389.6 252.6L509.8 252.6L510.2 254.0L510.4 260.0L512.0 460.0L514.2 625.0L514.6 631.0L567.4 630.4L568.4 627.0L570.5 590.0L571.5 586.4L630.0 587.4L694.6 588.4L695.4 586.0L697.0 460.0L698.0 260.0L699.6 160.0L700.2 153.5L739.6 153.6L742.4 150.4L783.0 151.0L783.8 153.0L784.2 160.0L785.6 260.0L787.4 460.0L788.8 620.0L789.2 627.0L813.8 627.0L814.4 622.0L816.4 460.0L818.0 260.0L819.6 100.0L820.2 85.0L821.0 84.0L823.0 84.4L825.6 90.0L827.6 91.0L828.6 100.0L829.2 130.0L830.0 260.0L831.2 336.0L831.6 341.2L872.2 341.2L872.8 337.0L874.0 260.0L875.6 100.0L876.0 86.0L876.6 84.4L885.6 84.4L890.0 89.0L915.0 89.0L915.8 91.0L916.4 100.0L918.2 168.0L918.8 173.0L946.0 173.4L950.0 185.6L1030.0 184.6L1211.4 182.0L1212.0 184.0L1212.6 192.0L1214.0 260.0L1215.4 404.0L1215.8 409.0L1298.2 409.0L1298.8 404.0L1300.4 260.0L1302.0 190.0L1302.6 181.4L1377.6 180.0L1378.4 176.0L1381.0 104.0L1381.8 99.4L1393.6 99.4L1398.4 85.6L1406.4 85.6L1407.0 88.0L1407.6 100.0L1409.6 260.0L1410.2 290.0L1410.6 293.4L1465.4 292.4L1465.8 289.0L1466.6 260.0L1468.4 102.0L1468.8 96.0L1481.4 96.0L1481.8 100.0L1483.2 260.0L1486.0 460.0L1486.8 598.0L1487.2 603.0L1506.2 603.0L1506.8 598.0L1509.0 460.0L1511.0 260.0L1511.6 246.0L1512.2 242.0L1579.4 241.6L1580.0 246.0L1580.6 260.0L1582.8 460.0L1584.0 576.0L1584.4 580.6L1648.2 580.6L1648.8 576.0L1650.6 460.0L1652.0 260.0L1652.4 246.0L1652.8 241.6L1718.0 241.6L1718.6 246.0L1719.4 260.0L1722.0 460.0L1723.4 614.0L1723.8 619.0L1738.0 619.0L1742.4 626.9L1806.5 626.9" stroke="#ff0000" stroke-opacity="0.8" stroke-width="2.78" stroke-linejoin="round"/>
<path d="M232.50 825.54L232.99 827.03L233.70 828.98L234.40 830.67L235.09 832.10L235.78 833.28L236.47 834.19L237.15 834.85L237.82 835.24L238.50 835.37L239.13 835.24L239.76 834.85L240.40 834.19L241.04 833.28L241.68 832.10L242.34 830.67L242.99 828.98L243.66 827.03L244.34 824.82L245.03 822.36L245.73 819.64L246.44 816.68L247.17 813.46L247.92 810.00L248.68 806.30L249.46 802.35L250.26 798.17L251.09 793.74L251.93 789.09L252.80 784.20L253.69 779.09L254.60 773.75L255.55 768.20L256.52 762.43L257.52 756.45L258.54 750.26L259.60 743.86L260.69 737.27L261.81 730.48L262.97 723.51L264.16 716.34L265.38 709.00L266.64 701.48L267.94 693.80L269.27 685.94L270.65 677.93L272.06 669.77L273.51 661.45L275.00 653.00L276.54 644.40L278.11 635.68L279.73 626.83L281.39 617.86L283.10 608.78L284.84 599.60L286.64 590.31L288.48 580.93L290.36 571.46L292.29 561.91L294.27 552.29L296.29 542.60L298.36 532.85L300.48 523.04L302.64 513.18L304.85 503.29L307.11 493.36L309.42 483.40L311.78 473.43L314.18 463.43L316.63 453.44L319.14 443.44L321.69 433.45L324.28 423.47L326.93 413.51L329.62 403.58L332.37 393.69L335.15 383.83L337.99 374.03L340.88 364.27L343.81 354.58L346.79 344.96L349.81 335.41L352.88 325.94L356.00 316.56L359.16 307.28L362.36 298.09L365.61 289.01L368.91 280.04L372.24 271.19L375.62 262.47L379.04 253.88L382.50 245.42L386.01 237.11L389.55 228.94L393.13 220.93L396.75 213.08L400.41 205.39L404.10 197.87L407.83 190.53L411.59 183.37L415.39 176.39L419.22 169.60L423.09 163.01L426.98 156.62L430.91 150.43L434.87 144.44L438.85 138.67L442.86 133.12L446.90 127.78L450.96 122.67L455.05 117.78L459.16 113.13L463.29 108.71L467.45 104.52L471.62 100.57L475.81 96.87L480.02 93.41L484.24 90.19L488.48 87.23L492.73 84.51L497.00 82.05L501.28 79.85L505.56 77.90L509.86 76.20L514.16 74.77L518.47 73.59L522.79 72.68L527.11 72.02L531.43 71.63L535.75 71.50L540.03 71.63L544.30 72.02L548.58 72.68L552.85 73.59L557.11 74.77L561.37 76.20L565.63 77.90L569.87 79.85L574.10 82.05L578.33 84.51L582.54 87.23L586.73 90.19L590.91 93.41L595.08 96.87L599.23 100.57L603.36 104.52L607.48 108.71L611.57 113.13L615.64 117.78L619.69 122.67L623.71 127.78L627.71 133.12L631.69 138.67L635.63 144.44L639.55 150.43L643.45 156.62L647.31 163.01L651.14 169.60L654.94 176.39L658.70 183.37L662.44 190.53L666.14 197.87L669.80 205.39L673.43 213.08L677.02 220.93L680.58 228.94L684.09 237.11L687.57 245.42L691.01 253.88L694.41 262.47L697.76 271.19L701.08 280.04L704.35 289.01L707.58 298.09L710.77 307.28L713.92 316.56L717.02 325.94L720.07 335.41L723.08 344.96L726.05 354.58L728.97 364.27L731.85 374.03L734.67 383.83L737.46 393.69L740.19 403.58L742.88 413.51L745.52 423.47L748.12 433.45L750.66 443.44L753.17 453.44L755.62 463.43L758.03 473.43L760.38 483.40L762.70 493.36L764.96 503.29L767.18 513.18L769.35 523.04L771.48 532.85L773.56 542.60L775.59 552.29L777.58 561.91L779.52 571.46L781.42 580.93L783.28 590.31L785.09 599.60L786.85 608.78L788.57 617.86L790.25 626.83L791.89 635.68L793.49 644.40L795.05 653.00L796.56 661.45L798.04 669.77L799.48 677.93L800.88 685.94L802.24 693.80L803.56 701.48L804.85 709.00L806.11 716.34L807.33 723.51L808.52 730.48L809.67 737.27L810.79 743.86L811.89 750.26L812.95 756.45L813.98 762.43L814.99 768.20L815.97 773.75L816.92 779.09L817.85 784.20L818.76 789.09L819.64 793.74L820.50 798.17L821.35 802.35L822.17 806.30L822.97 810.00L823.76 813.46L824.53 816.68L825.29 819.64L826.03 822.36L826.76 824.82L827.49 827.03L828.20 828.98L828.90 830.67L829.59 832.10L830.28 833.28L830.97 834.19L831.65 834.85L832.32 835.24L833.00 835.37L833.63 835.24L834.26 834.85L834.90 834.19L835.54 833.28L836.18 832.10L836.83 830.67L837.49 828.98L838.16 827.03L838.83 824.82L839.52 822.36L840.22 819.64L840.94 816.68L841.66 813.46L842.41 810.00L843.17 806.30L843.95 802.35L844.75 798.17L845.58 793.74L846.42 789.09L847.28 784.20L848.17 779.09L849.09 773.75L850.03 768.20L851.00 762.43L852.00 756.45L853.03 750.26L854.08 743.86L855.17 737.27L856.29 730.48L857.45 723.51L858.64 716.34L859.86 709.00L861.12 701.48L862.41 693.80L863.75 685.94L865.12 677.93L866.53 669.77L867.98 661.45L869.47 653.00L871.01 644.40L872.58 635.68L874.20 626.83L875.86 617.86L877.56 608.78L879.31 599.60L881.10 590.31L882.93 580.93L884.82 571.46L886.74 561.91L888.72 552.29L890.74 542.60L892.81 532.85L894.92 523.04L897.09 513.18L899.30 503.29L901.55 493.36L903.86 483.40L906.22 473.43L908.62 463.43L911.07 453.44L913.57 443.44L916.12 433.45L918.71 423.47L921.35 413.51L924.05 403.58L926.79 393.69L929.57 383.83L932.41 374.03L935.29 364.27L938.22 354.58L941.19 344.96L944.22 335.41L947.28 325.94L950.40 316.56L953.56 307.28L956.76 298.09L960.01 289.01L963.30 280.04L966.63 271.19L970.01 262.47L973.42 253.88L976.88 245.42L980.38 237.11L983.92 228.94L987.50 220.93L991.11 213.08L994.77 205.39L998.46 197.87L1002.19 190.53L1005.95 183.37L1009.74 176.39L1013.57 169.60L1017.43 163.01L1021.33 156.62L1025.25 150.43L1029.20 144.44L1033.18 138.67L1037.19 133.12L1041.22 127.78L1045.28 122.67L1049.37 117.78L1053.48 113.13L1057.60 108.71L1061.75 104.52L1065.92 100.57L1070.11 96.87L1074.31 93.41L1078.54 90.19L1082.77 87.23L1087.02 84.51L1091.28 82.05L1095.56 79.85L1099.84 77.90L1104.13 76.20L1108.43 74.77L1112.74 73.59L1117.05 72.68L1121.36 72.02L1125.68 71.63L1130.00 71.50L1134.27 71.63L1138.55 72.02L1142.82 72.68L1147.08 73.59L1151.35 74.77L1155.60 76.20L1159.85 77.90L1164.09 79.85L1168.32 82.05L1172.54 84.51L1176.75 87.23L1180.94 90.19L1185.12 93.41L1189.28 96.87L1193.43 100.57L1197.56 104.52L1201.66 108.71L1205.75 113.13L1209.82 117.78L1213.87 122.67L1217.89 127.78L1221.88 133.12L1225.85 138.67L1229.80 144.44L1233.72 150.43L1237.60 156.62L1241.46 163.01L1245.29 169.60L1249.09 176.39L1252.85 183.37L1256.58 190.53L1260.28 197.87L1263.94 205.39L1267.56 213.08L1271.15 220.93L1274.70 228.94L1278.22 237.11L1281.69 245.42L1285.13 253.88L1288.52 262.47L1291.88 271.19L1295.19 280.04L1298.46 289.01L1301.69 298.09L1304.87 307.28L1308.02 316.56L1311.11 325.94L1314.17 335.41L1317.18 344.96L1320.14 354.58L1323.06 364.27L1325.93 374.03L1328.75 383.83L1331.53 393.69L1334.27 403.58L1336.95 413.51L1339.59 423.47L1342.19 433.45L1344.73 443.44L1347.23 453.44L1349.68 463.43L1352.09 473.43L1354.44 483.40L1356.75 493.36L1359.02 503.29L1361.23 513.18L1363.40 523.04L1365.53 532.85L1367.61 542.60L1369.64 552.29L1371.63 561.91L1373.57 571.46L1375.46 580.93L1377.32 590.31L1379.12 599.60L1380.89 608.78L1382.61 617.86L1384.29 626.83L1385.93 635.68L1387.52 644.40L1389.08 653.00L1390.59 661.45L1392.07 669.77L1393.50 677.93L1394.90 685.94L1396.26 693.80L1397.59 701.48L1398.88 709.00L1400.13 716.34L1401.35 723.51L1402.54 730.48L1403.69 737.27L1404.81 743.86L1405.90 750.26L1406.97 756.45L1408.00 762.43L1409.00 768.20L1409.98 773.75L1410.94 779.09L1411.87 784.20L1412.77 789.09L1413.65 793.74L1414.51 798.17L1415.36 802.35L1416.18 806.30L1416.98 810.00L1417.77 813.46L1418.54 816.68L1419.30 819.64L1420.04 822.36L1420.77 824.82L1421.49 827.03L1422.20 828.98L1422.90 830.67L1423.60 832.10L1424.28 833.28L1424.97 834.19L1425.65 834.85L1426.32 835.24L1427.00 835.37L1427.63 835.24L1428.26 834.85L1428.90 834.19L1429.54 833.28L1430.18 832.10L1430.84 830.67L1431.49 828.98L1432.16 827.03L1432.84 824.82L1433.53 822.36L1434.23 819.64L1434.94 816.68L1435.67 813.46L1436.42 810.00L1437.18 806.30L1437.96 802.35L1438.76 798.17L1439.59 793.74L1440.43 789.09L1441.30 784.20L1442.19 779.09L1443.10 773.75L1444.05 768.20L1445.02 762.43L1446.02 756.45L1447.04 750.26L1448.10 743.86L1449.19 737.27L1450.31 730.48L1451.47 723.51L1452.66 716.34L1453.88 709.00L1455.14 701.48L1456.44 693.80L1457.77 685.94L1459.15 677.93L1460.56 669.77L1462.01 661.45L1463.50 653.00L1465.04 644.40L1466.61 635.68L1468.23 626.83L1469.89 617.86L1471.60 608.78L1473.34 599.60L1475.14 590.31L1476.98 580.93L1478.86 571.46L1480.79 561.91L1482.77 552.29L1484.79 542.60L1486.86 532.85L1488.98 523.04L1491.14 513.18L1493.35 503.29L1495.61 493.36L1497.92 483.40L1500.28 473.43L1502.68 463.43L1505.13 453.44L1507.64 443.44L1510.19 433.45L1512.78 423.47L1515.43 413.51L1518.12 403.58L1520.87 393.69L1523.65 383.83L1526.49 374.03L1529.38 364.27L1532.31 354.58L1535.29 344.96L1538.31 335.41L1541.38 325.94L1544.50 316.56L1547.66 307.28L1550.86 298.09L1554.11 289.01L1557.41 280.04L1560.74 271.19L1564.12 262.47L1567.54 253.88L1571.00 245.42L1574.51 237.11L1578.05 228.94L1581.63 220.93L1585.25 213.08L1588.91 205.39L1592.60 197.87L1596.33 190.53L1600.09 183.37L1603.89 176.39L1607.72 169.60L1611.59 163.01L1615.48 156.62L1619.41 150.43L1623.37 144.44L1627.35 138.67L1631.36 133.12L1635.40 127.78L1639.46 122.67L1643.55 117.78L1647.66 113.13L1651.79 108.71L1655.95 104.52L1660.12 100.57L1664.31 96.87L1668.52 93.41L1672.74 90.19L1676.98 87.23L1681.23 84.51L1685.50 82.05L1689.78 79.85L1694.06 77.90L1698.36 76.20L1702.66 74.77L1706.97 73.59L1711.29 72.68L1715.61 72.02L1719.93 71.63L1724.25 71.50L1728.53 71.63L1732.80 72.02L1737.08 72.68L1741.35 73.59L1745.61 74.77L1749.87 76.20L1754.13 77.90L1758.37 79.85L1762.60 82.05L1766.83 84.51L1771.04 87.23L1775.23 90.19L1779.41 93.41L1783.58 96.87L1787.73 100.57L1791.86 104.52L1795.98 108.71L1800.07 113.13L1804.14 117.78L1806.50 120.63" stroke="#008000" stroke-opacity="0.8" stroke-width="2.78"/>
</g>
<g stroke="#000" stroke-width="1" fill="none" shape-rendering="crispEdges">
<path d="M457.5 837.5v-11.3M457.5 71.5v11.3"/><path d="M682.5 837.5v-11.3M682.5 71.5v11.3"/><path d="M907.5 837.5v-11.3M907.5 71.5v11.3"/><path d="M1131.5 837.5v-11.3M1131.5 71.5v11.3"/><path d="M1356.5 837.5v-11.3M1356.5 71.5v11.3"/><path d="M1581.5 837.5v-11.3M1581.5 71.5v11.3"/><path d="M232.5 728.5h11.3"/><path d="M232.5 618.5h11.3"/><path d="M232.5 509.5h11.3"/><path d="M232.5 399.5h11.3"/><path d="M232.5 290.5h11.3"/><path d="M232.5 180.5h11.3"/><path d="M1806.5 752.5h-11.3"/><path d="M1806.5 667.5h-11.3"/><path d="M1806.5 582.5h-11.3"/><path d="M1806.5 497.5h-11.3"/><path d="M1806.5 411.5h-11.3"/><path d="M1806.5 326.5h-11.3"/><path d="M1806.5 241.5h-11.3"/><path d="M1806.5 156.5h-11.3"/>
</g>
<rect x="232.5" y="71.5" width="1574.0" height="766.0" fill="none" stroke="#000" stroke-width="3" stroke-linejoin="miter" shape-rendering="crispEdges"/>
<g font-size="44.44px">
<text x="232.5" y="883.0" text-anchor="middle">312</text><text x="457.4" y="883.0" text-anchor="middle">313</text><text x="682.2" y="883.0" text-anchor="middle">314</text><text x="907.1" y="883.0" text-anchor="middle">315</text><text x="1131.9" y="883.0" text-anchor="middle">316</text><text x="1356.8" y="883.0" text-anchor="middle">317</text><text x="1581.6" y="883.0" text-anchor="middle">318</text><text x="1806.5" y="883.0" text-anchor="middle">319</text>
<g fill="#0000ff" text-anchor="end"><text x="224.8" y="849.4">−120</text><text x="224.8" y="740.0">−118</text><text x="224.8" y="630.5">−116</text><text x="224.8" y="521.1">−114</text><text x="224.8" y="411.7">−112</text><text x="224.8" y="302.3">−110</text><text x="224.8" y="192.8">−108</text><text x="224.8" y="83.4">−106</text></g>
<g fill="#ff0000" text-anchor="start"><text x="1815.2" y="849.3">0</text><text x="1813.6" y="764.2">20</text><text x="1813.6" y="679.1">40</text><text x="1813.6" y="594.0">60</text><text x="1813.6" y="508.9">80</text><text x="1812.8" y="423.7">100</text><text x="1812.8" y="338.6">120</text><text x="1812.8" y="253.5">140</text><text x="1812.8" y="168.4">160</text><text x="1812.8" y="83.3">180</text></g>
<text x="1020.5" y="938.9" text-anchor="middle">Day of Year (2019)</text>
<text transform="translate(82.2 453.5) rotate(-90)" text-anchor="middle">Focal Plane Temp (degC)</text>
<text transform="translate(1941.0 452.5) rotate(-90)" text-anchor="middle">Sun Angle (degree)</text>
</g>
<rect x="1591.5" y="894.4" width="203" height="100.1" fill="#fff" stroke="#000" stroke-width="2.78"/>
<path d="M1602.7 910.8H1642.3" stroke="#0000ff" stroke-width="8.33"/>
<path d="M1605.9 942.3H1640.1" stroke="#ff0000" stroke-opacity="0.8" stroke-width="2.78"/>
<path d="M1605.9 973.5H1640.1" stroke="#008000" stroke-opacity="0.8" stroke-width="2.78"/>
<g font-size="21.6px" letter-spacing="0.4"><text x="1662.6" y="918.5">Focal Temp</text><text x="1662.6" y="949.6">Sun Angle</text><text x="1662.6" y="980.8">Altitude</text></g>
</svg>
</body></html>
